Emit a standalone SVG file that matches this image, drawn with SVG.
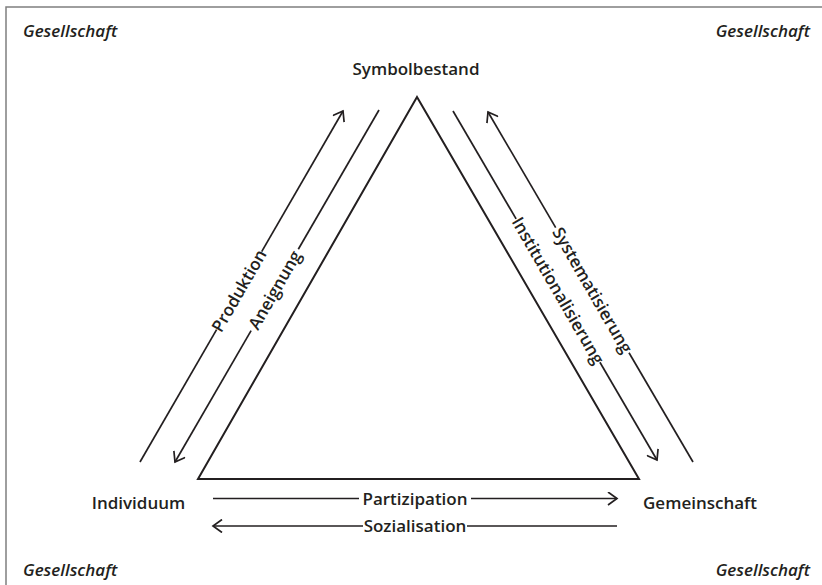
<svg xmlns="http://www.w3.org/2000/svg" width="822" height="585" viewBox="0 0 822 585">
<style>
text{font-family:"Open Sans","Liberation Sans",sans-serif;fill:#231f20;font-size:17px;font-weight:600}
.soc{font-style:italic}
.lbl{text-anchor:middle}
.ln{stroke:#231f20;stroke-width:1.7;fill:none}
.tri{stroke:#231f20;stroke-width:2;fill:none;stroke-linejoin:miter}
.frame{stroke:#7f7f7f;stroke-width:1.5;fill:none}
</style>
<defs>
<marker id="ah" markerUnits="userSpaceOnUse" markerWidth="14" markerHeight="14" refX="10" refY="7" orient="auto" viewBox="0 0 14 14">
<path d="M1,0.5 L10,7 L1,13.5" fill="none" stroke="#231f20" stroke-width="1.7"/>
</marker>
</defs>
<path class="frame" d="M6,585 L6,7 L822,7"/>
<g id="gesellschaft-tl"><text class="soc" x="23" y="37">Gesellschaft</text></g>
<g id="gesellschaft-tr"><text class="soc" x="810" y="37" text-anchor="end">Gesellschaft</text></g>
<g id="gesellschaft-bl"><text class="soc" x="23" y="576">Gesellschaft</text></g>
<g id="gesellschaft-br"><text class="soc" x="810" y="576" text-anchor="end">Gesellschaft</text></g>
<g id="triangle"><path class="tri" d="M417,97 L639,479 L198,479 Z"/></g>
<g id="symbolbestand"><text class="lbl" x="416" y="75">Symbolbestand</text></g>
<g id="individuum"><text class="lbl" x="138.5" y="509">Individuum</text></g>
<g id="gemeinschaft"><text class="lbl" x="700" y="509">Gemeinschaft</text></g>
<g id="connectors">
<g id="produktion">
<line class="ln" x1="140" y1="462" x2="216.6" y2="329.6"/>
<line class="ln" x1="261.7" y1="251.6" x2="343" y2="111" marker-end="url(#ah)"/>
<text class="lbl" transform="translate(239.1,290.6) rotate(-60)" y="6">Produktion</text>
</g>
<g id="aneignung">
<line class="ln" x1="379" y1="110" x2="298.3" y2="249.3"/>
<line class="ln" x1="251.1" y1="330.6" x2="175" y2="462" marker-end="url(#ah)"/>
<text class="lbl" transform="translate(274.7,290) rotate(-60)" y="6">Aneignung</text>
</g>
<g id="institutionalisierung">
<line class="ln" x1="453" y1="111" x2="516.1" y2="218.9"/>
<line class="ln" x1="599.9" y1="362.2" x2="657" y2="460" marker-end="url(#ah)"/>
<text class="lbl" transform="translate(558,290.6) rotate(60)" y="6">Institutionalisierung</text>
</g>
<g id="systematisierung">
<line class="ln" x1="693" y1="462" x2="629" y2="352.8"/>
<line class="ln" x1="555.7" y1="227.6" x2="488" y2="112" marker-end="url(#ah)"/>
<text class="lbl" transform="translate(592.4,290.2) rotate(60)" y="6">Systematisierung</text>
</g>
<g id="partizipation">
<line class="ln" x1="213" y1="498.5" x2="359" y2="498.5"/>
<line class="ln" x1="471" y1="498.5" x2="617" y2="498.5" marker-end="url(#ah)"/>
<text class="lbl" x="415" y="504.5">Partizipation</text>
</g>
<g id="sozialisation">
<line class="ln" x1="617" y1="526" x2="467" y2="526"/>
<line class="ln" x1="363" y1="526" x2="213" y2="526" marker-end="url(#ah)"/>
<text class="lbl" x="415" y="532">Sozialisation</text>
</g>
</g>
</svg>
